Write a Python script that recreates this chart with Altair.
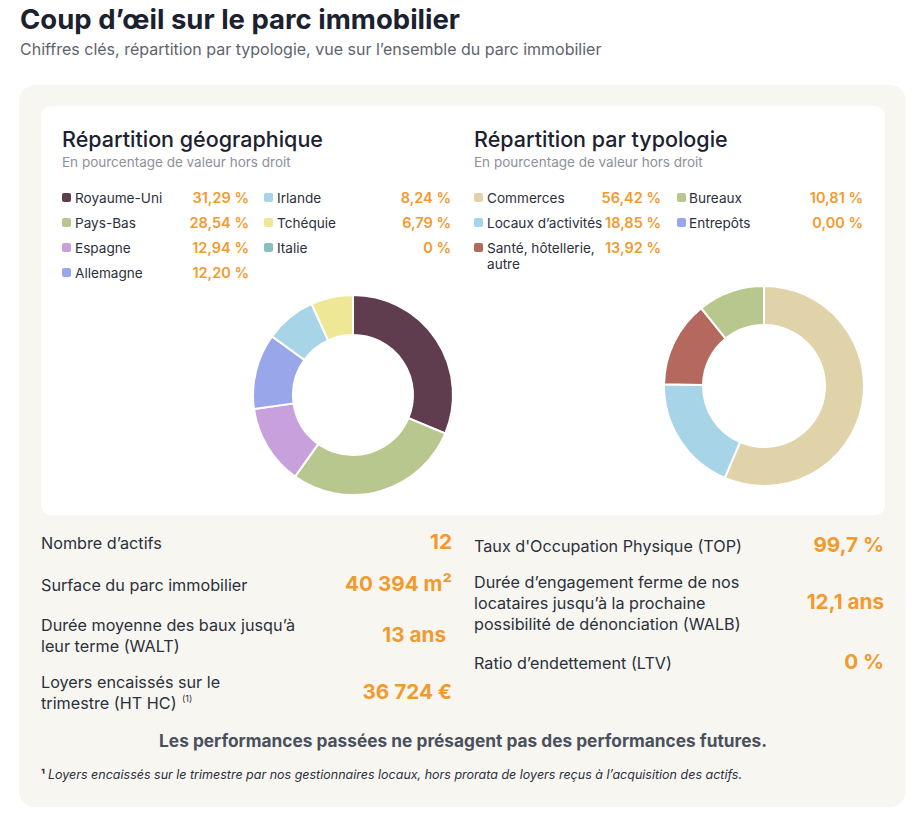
import altair as alt
import pandas as pd

# ---------------- data ----------------
geo_names = ["Royaume-Uni", "Pays-Bas", "Espagne", "Allemagne", "Irlande", "Tchéquie", "Italie"]
geo_values = [31.29, 28.54, 12.94, 12.20, 8.24, 6.79, 0.0]
geo_labels = ["31,29 %", "28,54 %", "12,94 %", "12,20 %", "8,24 %", "6,79 %", "0 %"]
geo_colors = ["#5f3d4f", "#b8c78e", "#c8a0dc", "#99a6ea", "#a8d4e8", "#eee896", "#86c0bf"]

typo_names = ["Commerces", "Locaux d’activités", "Santé, hôtellerie, autre", "Bureaux", "Entrepôts"]
typo_values = [56.42, 18.85, 13.92, 10.81, 0.0]
typo_labels = ["56,42 %", "18,85 %", "13,92 %", "10,81 %", "0,00 %"]
typo_colors = ["#e0d3aa", "#a8d4e8", "#b5695e", "#b8c78e", "#99a6ea"]

left_stats = [
    (["Nombre d’actifs"], "12"),
    (["Surface du parc immobilier"], "40 394 m²"),
    (["Durée moyenne des baux jusqu’à", "leur terme (WALT)"], "13 ans"),
    (["Loyers encaissés sur le", "trimestre (HT HC)"], "36 724 €"),
]
right_stats = [
    (["Taux d'Occupation Physique (TOP)"], "99,7 %"),
    (["Durée d’engagement ferme de nos", "locataires jusqu’à la prochaine",
      "possibilité de dénonciation (WALB)"], "12,1 ans"),
    (["Ratio d’endettement (LTV)"], "0 %"),
]

title = "Coup d’œil sur le parc immobilier"
subtitle = "Chiffres clés, répartition par typologie, vue sur l’ensemble du parc immobilier"
panel_titles = ["Répartition géographique", "Répartition par typologie"]
panel_sub = "En pourcentage de valeur hors droit"
disclaimer = "Les performances passées ne présagent pas des performances futures."
footnote = "Loyers encaissés sur le trimestre par nos gestionnaires locaux, hors prorata de loyers reçus à l’acquisition des actifs."

# ---------------- styles ----------------
FONT = "Inter"
DARK = "#1c2130"
TEXT = "#2b303b"
GREY = "#5e636e"
LIGHTGREY = "#8d919a"
ORANGE = "#f29a2e"
BEIGE = "#f8f6f1"

one = pd.DataFrame({"t": [""]})


def txt(s, x, y, size=14, color=TEXT, weight="normal", align="left", style="normal", baseline="alphabetic"):
    return alt.Chart(pd.DataFrame({"t": [s]})).mark_text(
        font=FONT, fontSize=size, color=color, fontWeight=weight, align=align,
        fontStyle=style, baseline=baseline,
    ).encode(x=alt.value(x), y=alt.value(y), text="t:N")


def box(x, x2, y, y2, color, r):
    return alt.Chart(one).mark_rect(color=color, cornerRadius=r).encode(
        x=alt.value(x), x2=alt.value(x2), y=alt.value(y), y2=alt.value(y2))


layers = []
# background panels
layers.append(box(19, 906, 85, 807, BEIGE, 16))
layers.append(box(41, 885, 106, 515, "#ffffff", 10))

# titles
layers.append(txt(title, 20, 29, size=27.5, color=DARK, weight="bold"))
layers.append(txt(subtitle, 20, 55, size=16, color=GREY))

# panel headings
for (px, t) in zip([62, 474], panel_titles):
    layers.append(txt(t, px, 147, size=21.5, color=DARK, weight=500))
    layers.append(txt(panel_sub, px, 167, size=13.5, color=LIGHTGREY))

# ---- legends ----
def legend(names, labels, colors, cols, rows_y):
    out = []
    for i, (n, l, c) in enumerate(zip(names, labels, colors)):
        col, row = cols[i]
        sx, lx, vx = col
        y = rows_y[row]
        out.append(box(sx, sx + 9, y - 5, y + 4, c, 2))
        parts = n.split("|")
        for k, p in enumerate(parts):
            out.append(txt(p, lx, y + 5 + 16 * k, size=13.6, color=TEXT))
        out.append(txt(l, vx, y + 5, size=14.5, color=ORANGE, weight=600, align="right"))
    return out

rows_y = [198, 223, 248, 273]
gL = (62, 75, 249)
gR = (264, 277, 451)
geo_pos = [(gL, 0), (gL, 1), (gL, 2), (gL, 3), (gR, 0), (gR, 1), (gR, 2)]
layers += legend(geo_names, geo_labels, geo_colors, geo_pos, rows_y)

tL = (474, 487, 661)
tR = (677, 689, 863)
typo_disp = ["Commerces", "Locaux d’activités", "Santé, hôtellerie,|autre", "Bureaux", "Entrepôts"]
typo_pos = [(tL, 0), (tL, 1), (tL, 2), (tR, 0), (tR, 1)]
layers += legend(typo_disp, typo_labels, typo_colors, typo_pos, rows_y)

# ---- donuts ----
color_scale = alt.Scale(domain=geo_names + typo_names, range=geo_colors + typo_colors)
geo_df = pd.DataFrame({"name": geo_names, "value": geo_values, "idx": range(len(geo_names))})
typo_df = pd.DataFrame({"name": typo_names, "value": typo_values, "idx": range(len(typo_names))})

donut_geo = alt.Chart(geo_df).mark_arc(innerRadius=60, outerRadius=100, stroke="white", strokeWidth=2).encode(
    theta=alt.Theta("value:Q", stack=True),
    color=alt.Color("name:N", scale=color_scale, legend=None),
    order=alt.Order("idx:Q"),
    x=alt.value(353), y=alt.value(395),
)
donut_typo = alt.Chart(typo_df).mark_arc(innerRadius=61, outerRadius=100, stroke="white", strokeWidth=2).encode(
    theta=alt.Theta("value:Q", stack=True),
    color=alt.Color("name:N", scale=color_scale, legend=None),
    order=alt.Order("idx:Q"),
    x=alt.value(764), y=alt.value(386),
)

# ---- key figures ----
def stats(items, lx, vxs, tops):
    out = []
    for (lines, v), top, vx in zip(items, tops, vxs):
        n = len(lines)
        for k, line in enumerate(lines):
            out.append(txt(line, lx, top + 21 * k, size=16.2, color=TEXT))
        vy = top + 21 * (n - 1) / 2
        out.append(txt(v, vx, vy, size=20.7, color=ORANGE, weight="bold", align="right"))
    return out

layers += stats(left_stats, 41, [452, 452, 446, 452], [549, 591, 631, 688])
layers.append(txt("(1)", 182, 702, size=9, color=TEXT))
layers += stats(right_stats, 474, [884, 884, 884], [552, 588, 669])

layers.append(txt(disclaimer, 463, 747, size=17.3, color="#4a505d", weight="bold", align="center"))
layers.append(txt("¹", 41, 779, size=12, color=TEXT, weight="bold"))
layers.append(txt(footnote, 48, 779, size=12.5, color=TEXT, style="italic"))

chart = alt.layer(*layers[:2], donut_geo, donut_typo, *layers[2:]).resolve_scale(
    theta="independent"
).properties(
    width=919, height=819, padding=0, autosize=alt.AutoSizeParams(type="none"),
    background="#ffffff",
).configure_view(stroke=None)

chart.save("out.html", embed_options={"renderer": "svg", "actions": False})
